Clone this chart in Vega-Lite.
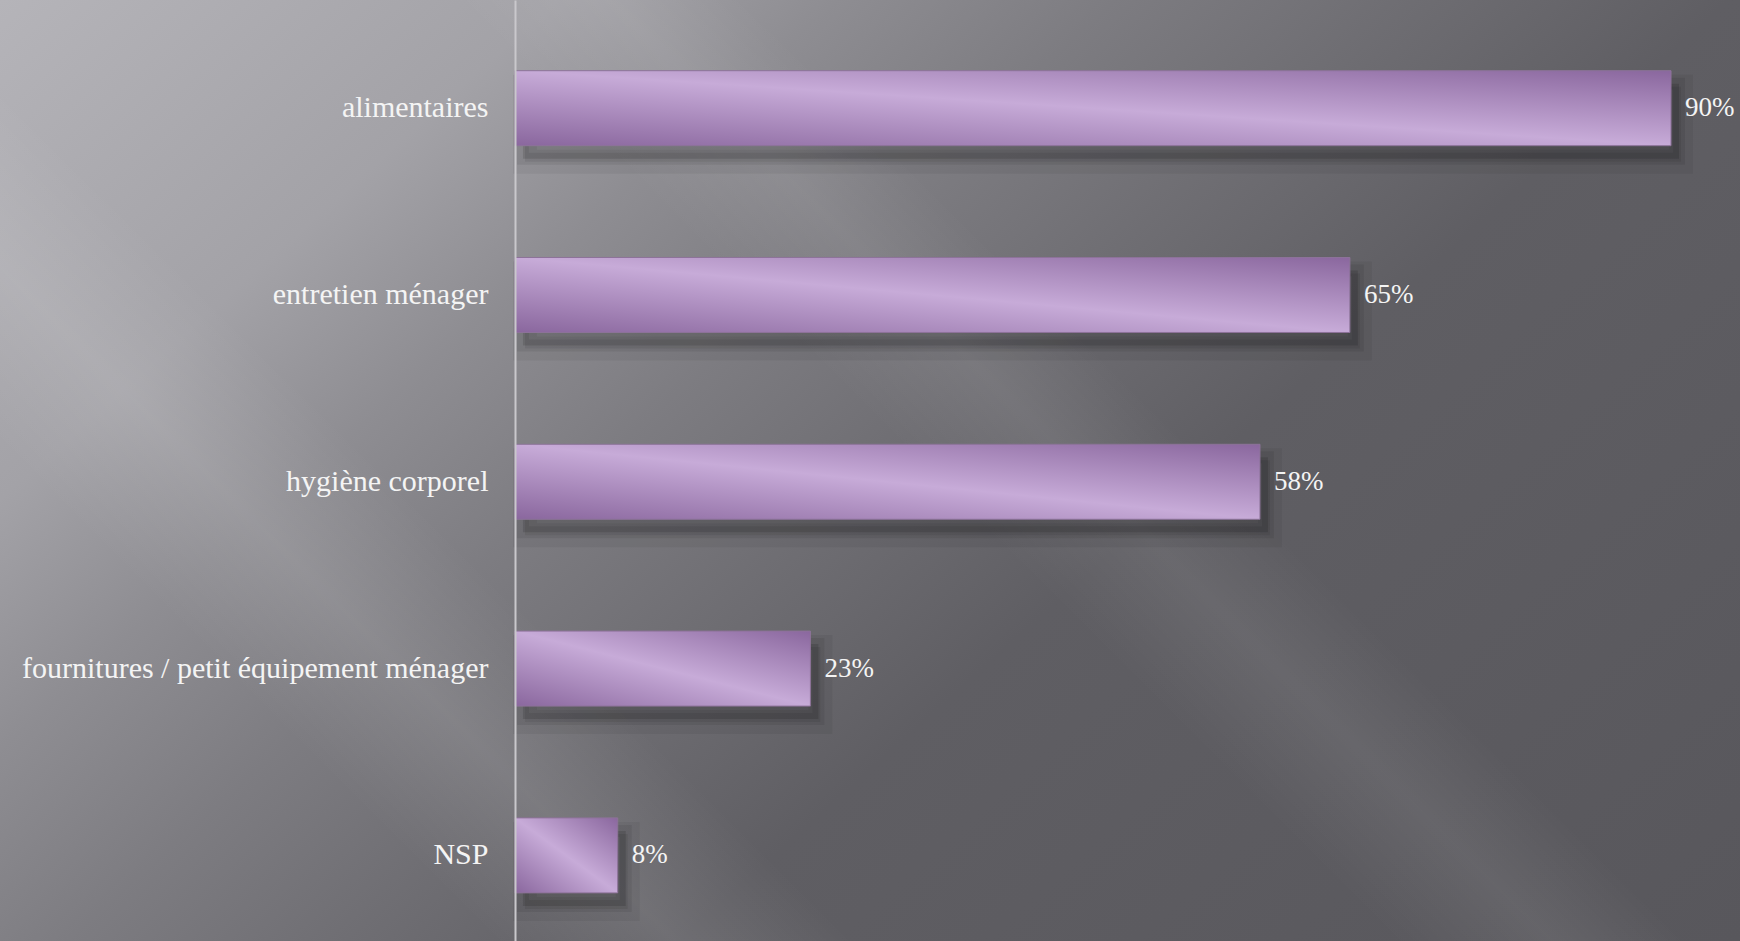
{
  "$schema": "https://vega.github.io/schema/vega-lite/v6.json",
  "width": 1740,
  "height": 941,
  "padding": 0,
  "autosize": {"type": "none"},
  "background": "#6e6d72",
  "config": {"view": {"stroke": null}},
  "datasets": {
    "reponses": [
      {"categorie": "alimentaires", "part": 0.90},
      {"categorie": "entretien ménager", "part": 0.65},
      {"categorie": "hygiène corporel", "part": 0.58},
      {"categorie": "fournitures / petit équipement ménager", "part": 0.23},
      {"categorie": "NSP", "part": 0.08}
    ],
    "fond": [{"id": 1}]
  },
  "layer": [
    {
      "data": {"name": "fond"},
      "mark": {
        "type": "rect",
        "fill": {
          "gradient": "linear", "x1": 0, "y1": 0, "x2": 1.175, "y2": 0.709,
          "stops": [
            {"offset": 0, "color": "#b5b4b9"},
            {"offset": 0.2, "color": "#a3a2a7"},
            {"offset": 0.3, "color": "#8e8d92"},
            {"offset": 0.4, "color": "#7d7c81"},
            {"offset": 0.5, "color": "#6f6e73"},
            {"offset": 0.62, "color": "#5f5e63"},
            {"offset": 1, "color": "#58575c"}
          ]
        }
      },
      "encoding": {}
    },
    {
      "data": {"name": "fond"},
      "mark": {
        "type": "rect",
        "fill": {
          "gradient": "linear", "x1": 0, "y1": 1, "x2": 1, "y2": 0.459,
          "stops": [
            {"offset": 0, "color": "rgba(255,255,255,0)"},
            {"offset": 0.22, "color": "rgba(255,255,255,0)"},
            {"offset": 0.30, "color": "rgba(255,255,255,0.10)"},
            {"offset": 0.38, "color": "rgba(255,255,255,0)"},
            {"offset": 0.62, "color": "rgba(255,255,255,0)"},
            {"offset": 0.69, "color": "rgba(255,255,255,0.07)"},
            {"offset": 0.75, "color": "rgba(255,255,255,0)"},
            {"offset": 1, "color": "rgba(255,255,255,0)"}
          ]
        }
      },
      "encoding": {}
    },
    {
      "data": {"name": "reponses"},
      "encoding": {
        "x": {
          "field": "part", "type": "quantitative",
          "scale": {"domain": [-0.4009, 0.9537], "nice": false, "zero": false},
          "axis": null
        },
        "y": {
          "field": "categorie", "type": "nominal", "sort": null,
          "scale": {"paddingInner": 0.5985, "paddingOuter": 0.318, "align": 0.595},
          "axis": {
            "title": null,
            "offset": -515,
            "zindex": 2,
            "ticks": false,
            "labelPadding": 27,
            "labelFont": "Liberation Serif",
            "labelFontSize": 30,
            "labelColor": "#f4f4f4",
            "labelLimit": 0,
            "domainColor": "#c9c8cc",
            "domainWidth": 2,
            "grid": false
          }
        }
      },
      "layer": [
        {
          "mark": {"type": "bar", "fill": "#000000", "fillOpacity": 0.07, "stroke": "#000000", "strokeOpacity": 0.05, "strokeWidth": 24, "xOffset": 10, "yOffset": 16}
        },
        {
          "mark": {"type": "bar", "fill": "#000000", "fillOpacity": 0.12, "stroke": "#000000", "strokeOpacity": 0.07, "strokeWidth": 12, "xOffset": 8, "yOffset": 13}
        },
        {
          "mark": {
            "type": "bar",
            "stroke": "#8d7399",
            "strokeWidth": 1,
            "fill": {
              "gradient": "linear", "x1": 0, "y1": 1, "x2": 1, "y2": 0,
              "stops": [
                {"offset": 0, "color": "#8a679e"},
                {"offset": 0.5, "color": "#c7abd8"},
                {"offset": 1, "color": "#8a679e"}
              ]
            }
          }
        },
        {
          "mark": {"type": "text", "align": "left", "baseline": "middle", "dx": 14, "font": "Liberation Serif", "fontSize": 27, "color": "#f4f4f4"},
          "encoding": {
            "text": {"field": "part", "type": "quantitative", "format": ".0%"}
          }
        }
      ]
    }
  ]
}
